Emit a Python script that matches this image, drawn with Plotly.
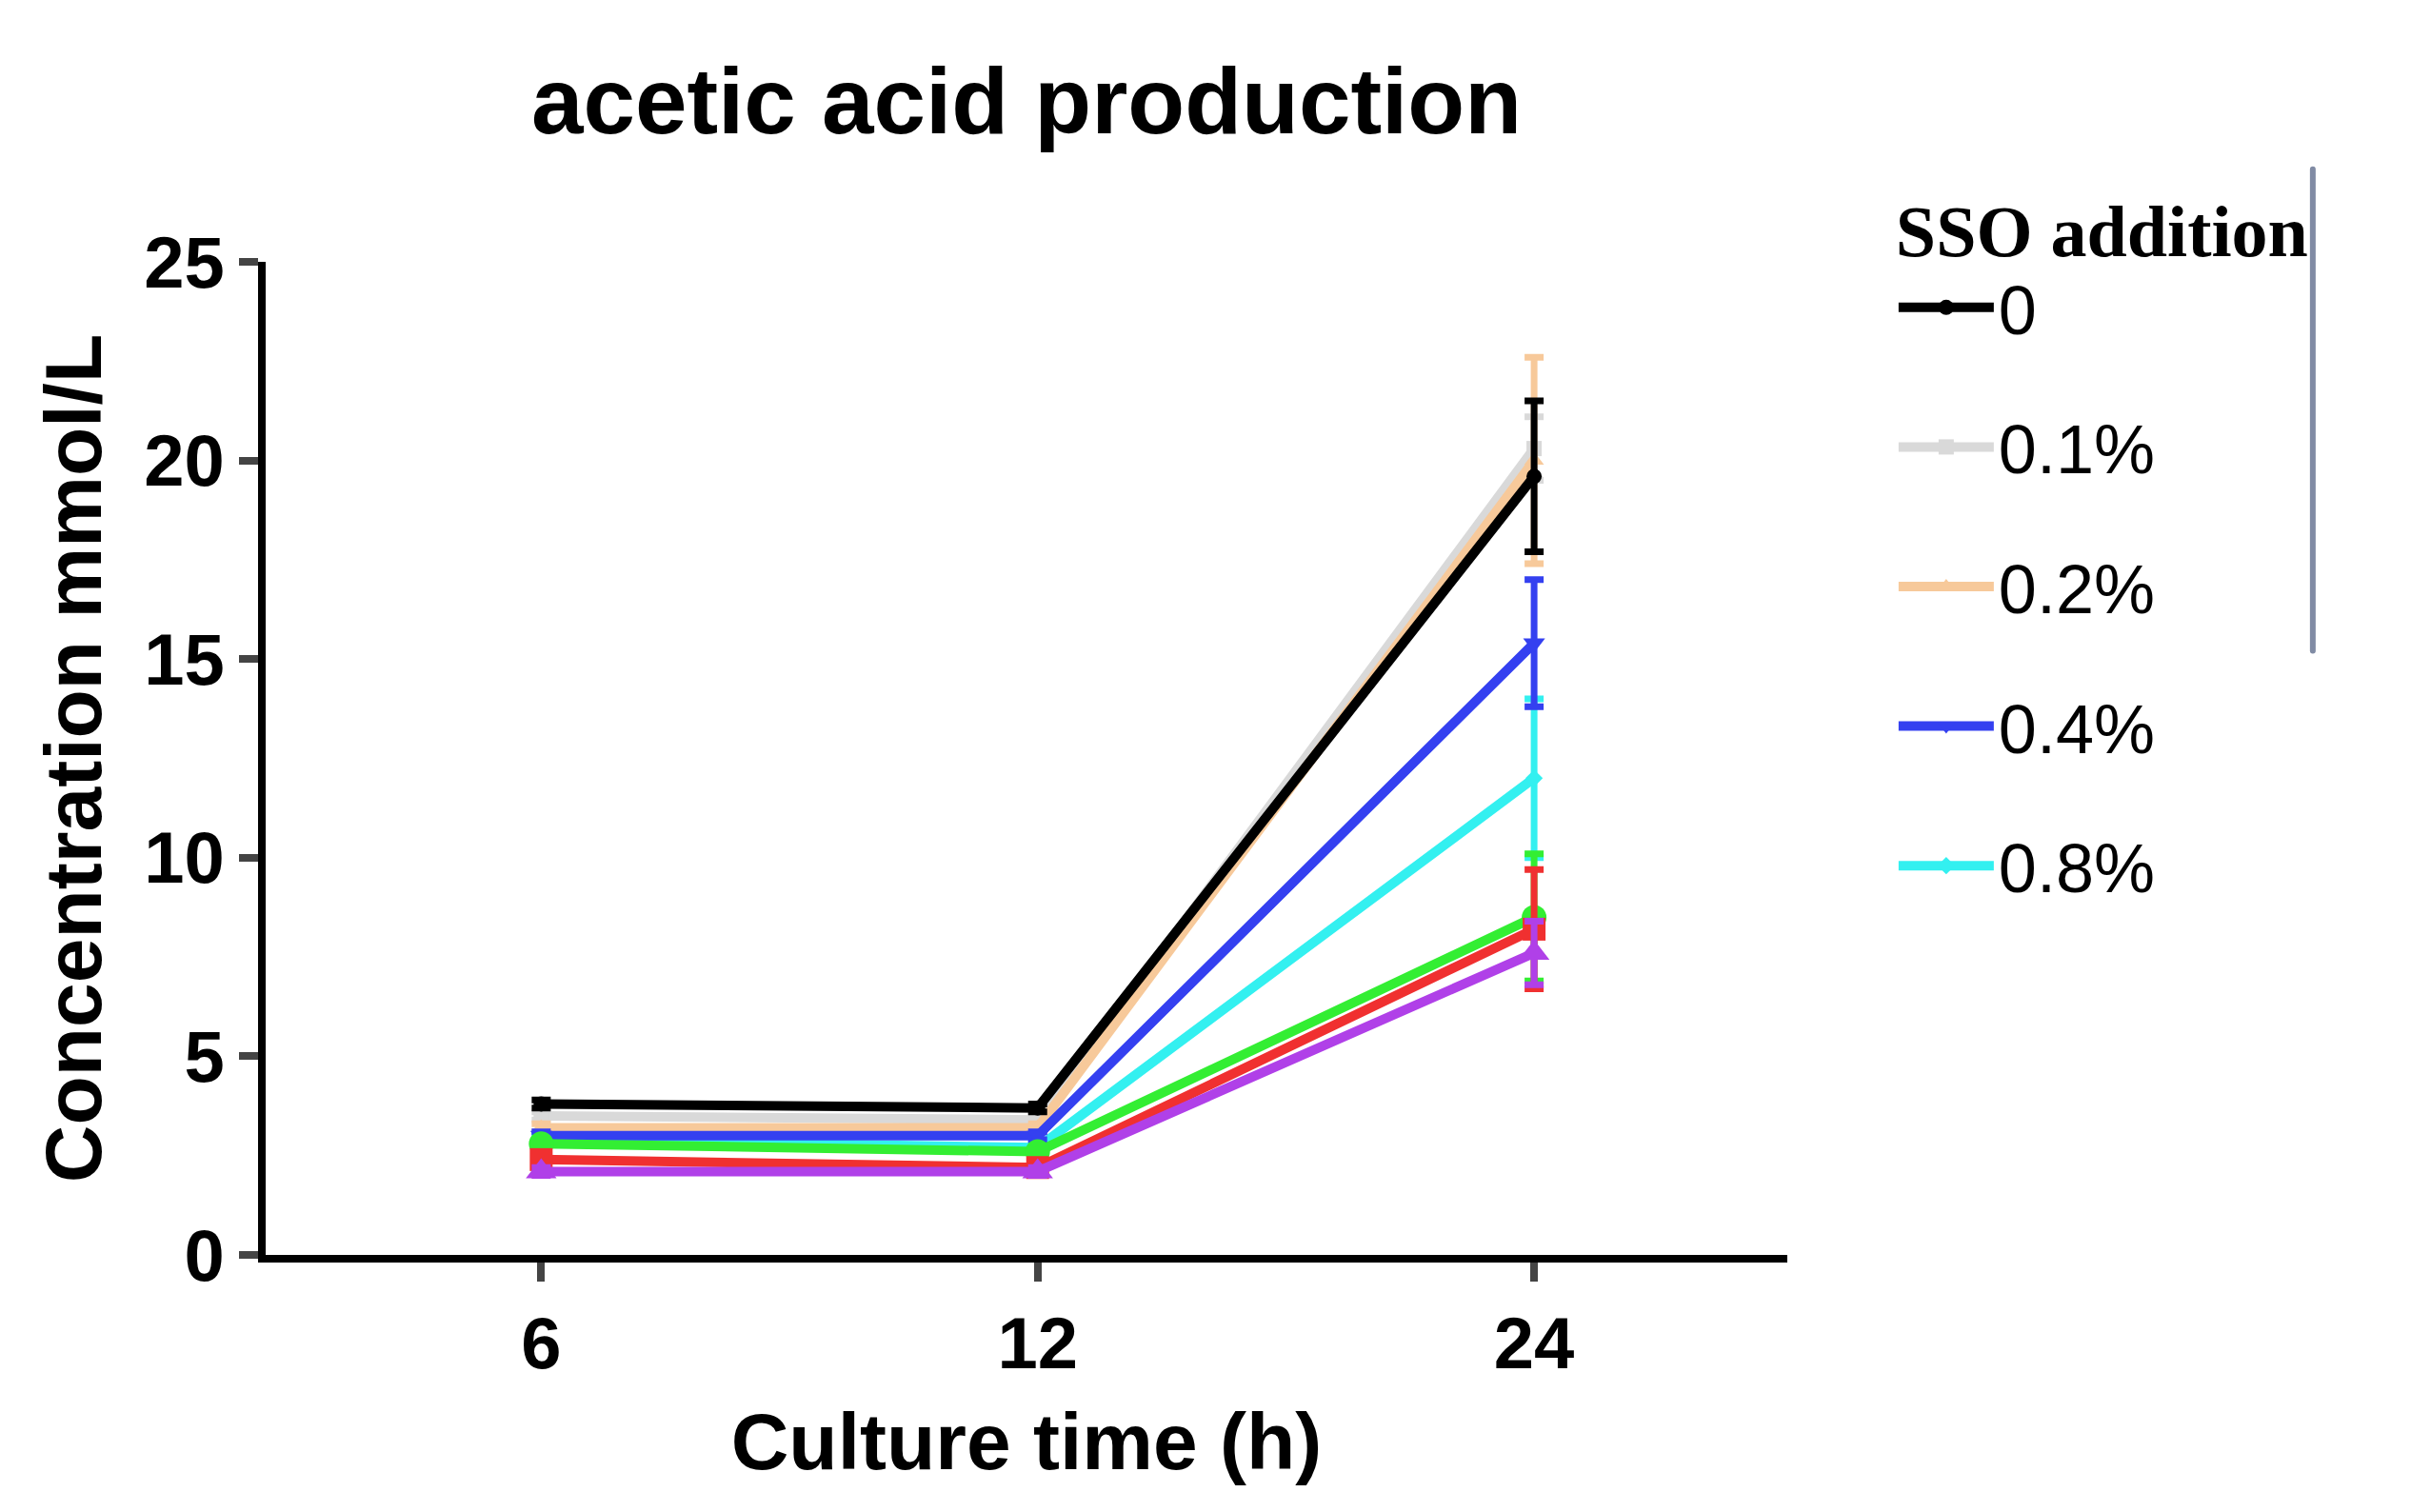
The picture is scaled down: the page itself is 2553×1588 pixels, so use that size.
import plotly.graph_objects as go

times = ["6", "12", "24"]
groups = ["0", "0.1%", "0.2%", "0.4%", "0.8%", "1.6%", "3.2%", "4.0%"]
conc = [
    [3.8, 3.7, 19.6],
    [3.5, 3.4, 20.3],
    [3.2, 3.2, 20.0],
    [3.0, 3.0, 15.4],
    [2.9, 2.7, 12.0],
    [2.8, 2.6, 8.5],
    [2.4, 2.2, 8.2],
    [2.1, 2.1, 7.6],
]
err = [
    [0.1, 0.1, 1.9],
    [0.1, 0.1, 0.8],
    [0.1, 0.1, 2.6],
    [0.1, 0.1, 1.6],
    [0.1, 0.1, 2.0],
    [0.1, 0.1, 1.6],
    [0.1, 0.1, 1.5],
    [0.1, 0.1, 0.8],
]
colors = ["#000000", "#d9d9d9", "#f7c99a", "#3440f0", "#33f0f0", "#33ee33", "#f03030", "#b040e8"]
symbols = ["circle", "square", "triangle-up", "triangle-down", "diamond", "circle", "square", "triangle-up"]
sizes = [16, 16, 18, 20, 14, 26, 24, 28]

fig = go.Figure()
# light ones first so black stays on top
order = [1, 2, 4, 3, 5, 6, 7, 0]
for i in order:
    fig.add_trace(go.Scatter(
        x=[0, 1, 2], y=conc[i], name=groups[i], mode="lines+markers",
        legendgroup=groups[i],
        line=dict(color=colors[i], width=10),
        marker=dict(symbol=symbols[i], size=sizes[i], color=colors[i]),
        error_y=dict(type="data", array=err[i], color=colors[i], thickness=7, width=10),
        legendrank=i,
    ))

fig.update_layout(
    width=2553, height=1588,
    plot_bgcolor="white", paper_bgcolor="white",
    margin=dict(l=271, r=684, t=267, b=278),
    title=dict(text="<b>acetic acid production</b>", x=0.5, xref="paper", xanchor="center",
               y=0.96, yanchor="top",
               font=dict(family="Liberation Sans", size=98, color="black")),
    font=dict(family="Liberation Sans", color="black"),
    xaxis=dict(range=[-0.555, 2.51], tickvals=[0, 1, 2], ticktext=["<b>%s</b>" % t for t in times],
               showline=True, linecolor="black", linewidth=8, ticks="outside", ticklen=20,
               tickwidth=8, showgrid=False, zeroline=False, tickfont=dict(size=76),
               title=dict(text="<b>Culture time (h)</b>", font=dict(size=84), standoff=35)),
    yaxis=dict(range=[0, 25], tickvals=[0, 5, 10, 15, 20, 25],
               ticktext=["<b>%d</b>" % v for v in [0, 5, 10, 15, 20, 25]],
               showline=True, linecolor="black", linewidth=8, ticks="outside", ticklen=20,
               tickwidth=8, showgrid=False, zeroline=False, tickfont=dict(size=76),
               title=dict(text="<b>Concentration mmol/L</b>", font=dict(size=84), standoff=20)),
    legend=dict(x=1.07, y=1.1, xanchor="left", yanchor="top",
                title=dict(text="<b>SSO addition</b>", font=dict(family="Liberation Serif", size=76)),
                font=dict(size=72), tracegroupgap=50, itemwidth=100),
)

fig.write_html("out.html")
